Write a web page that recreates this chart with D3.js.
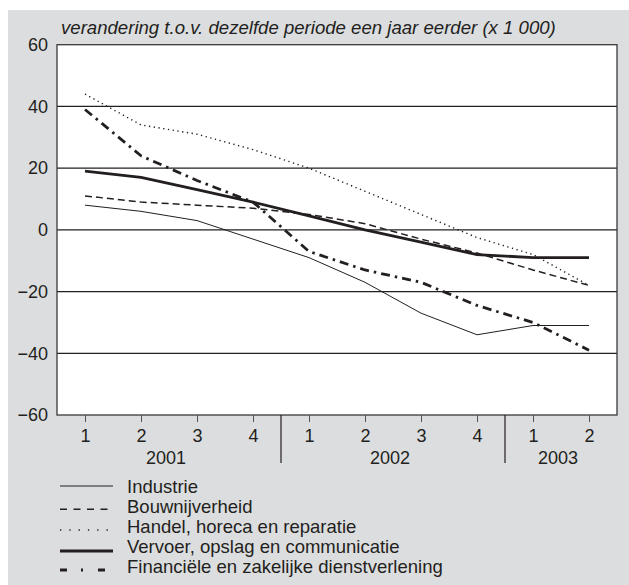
<!DOCTYPE html>
<html>
<head>
<meta charset="utf-8">
<script src="https://cdn.jsdelivr.net/npm/d3@7"></script>
<style>
  html, body { margin: 0; padding: 0; background: #fff; }
  svg { display: block; }
  text { font-family: "Liberation Sans", Arial, Helvetica, sans-serif; fill: #231f20; }
</style>
</head>
<body>
<svg id="chart" width="629" height="585"></svg>
<script>
// ---- data ----
const years = ["2001", "2002", "2003"];
const quarters = ["1", "2", "3", "4", "1", "2", "3", "4", "1", "2"];
const periodYear = ["2001", "2001", "2001", "2001", "2002", "2002", "2002", "2002", "2003", "2003"];
const yTicks = [-60, -40, -20, 0, 20, 40, 60];

const industrie      = [8, 6, 3, -3, -9, -17, -27, -34, -31, -31];
const bouwnijverheid = [11, 9, 8, 7, 5, 2, -3, -7.5, -13, -18];
const handel         = [44, 34, 31, 26, 20, 12.5, 5, -2.5, -8, -18];
const vervoer        = [19, 17, 13, 9, 4.5, 0, -4, -8, -9, -9];
const financieel     = [39, 24, 16, 9, -7, -13, -17, -24.5, -30, -39];

const seriesNames = [
  "Industrie",
  "Bouwnijverheid",
  "Handel, horeca en reparatie",
  "Vervoer, opslag en communicatie",
  "Financiële en zakelijke dienstverlening"
];
const seriesValues = [industrie, bouwnijverheid, handel, vervoer, financieel];

const titleText = "verandering t.o.v. dezelfde periode een jaar eerder (x 1 000)";

// ---- styles ----
const styles = [
  { w: 1.0, dash: null,          legendDash: null },
  { w: 1.5, dash: "7,4",         legendDash: "7,6.5" },
  { w: 1.4, dash: "1.3,3.5",     legendDash: "1.3,8" },
  { w: 2.8, dash: null,          legendDash: null },
  { w: 2.8, dash: "9,5,2.5,5",   legendDash: "7,14,2,15" }
];

const svg = d3.select("#chart");
const W = 629, H = 585;
const plot = { left: 57, right: 617, top: 44.7, bottom: 415 };

// background
svg.append("rect").attr("x", 8).attr("y", 10).attr("width", W - 8).attr("height", H - 10)
  .attr("fill", "#dcdddf");

svg.append("rect")
  .attr("x", plot.left).attr("y", plot.top)
  .attr("width", plot.right - plot.left).attr("height", plot.bottom - plot.top)
  .attr("fill", "#fff");

const keys = quarters.map((q, i) => periodYear[i] + "-" + q);
const x = d3.scalePoint().domain(keys).range([plot.left, plot.right]).padding(0.5);
const y = d3.scaleLinear().domain([-60, 60]).range([plot.bottom, plot.top]);

// gridlines
svg.append("g").selectAll("line")
  .data(yTicks.filter(t => t > -60 && t < 60))
  .join("line")
  .attr("x1", plot.left).attr("x2", plot.right)
  .attr("y1", d => y(d)).attr("y2", d => y(d))
  .attr("stroke", "#231f20").attr("stroke-width", 1.2);

// frame
svg.append("rect")
  .attr("x", plot.left).attr("y", plot.top)
  .attr("width", plot.right - plot.left).attr("height", plot.bottom - plot.top)
  .attr("fill", "none").attr("stroke", "#3a3a3a").attr("stroke-width", 1.3);

// y axis labels
const yAxis = d3.axisLeft(y).tickValues(yTicks).tickSize(0).tickPadding(9)
  .tickFormat(d => d < 0 ? "\u2212" + Math.abs(d) : String(d));
const gy = svg.append("g").attr("transform", `translate(${plot.left},0)`).call(yAxis);
gy.select(".domain").remove();
gy.selectAll("text").attr("font-size", 18).attr("fill", "#231f20")
  .style("font-family", '"Liberation Sans", Arial, sans-serif');

// x axis
const xAxis = d3.axisBottom(x).tickSize(7).tickPadding(7).tickFormat((d, i) => quarters[i]);
const gx = svg.append("g").attr("transform", `translate(0,${plot.bottom})`).call(xAxis);
gx.select(".domain").remove();
gx.selectAll(".tick line").attr("stroke", "#555").attr("stroke-width", 1);
gx.selectAll("text").attr("font-size", 18).attr("fill", "#231f20")
  .style("font-family", '"Liberation Sans", Arial, sans-serif');

// year separators and labels
const step = x.step();
years.forEach((yr, yi) => {
  const idx = keys.map((k, i) => periodYear[i] === yr ? i : -1).filter(i => i >= 0);
  const first = x(keys[idx[0]]), last = x(keys[idx[idx.length - 1]]);
  svg.append("text")
    .attr("x", (first + last) / 2 - 3).attr("y", 464)
    .attr("text-anchor", "middle").attr("font-size", 18).text(yr);
  if (yi < years.length - 1) {
    const sx = last + step / 2;
    svg.append("line").attr("x1", sx).attr("x2", sx).attr("y1", plot.bottom).attr("y2", 463)
      .attr("stroke", "#231f20").attr("stroke-width", 1.2);
  }
});

// title
svg.append("text").attr("x", 61).attr("y", 33.5)
  .attr("font-size", 18.6).attr("font-style", "italic").text(titleText);

// lines
const line = d3.line().x((d, i) => x(keys[i])).y(d => y(d));
seriesValues.forEach((vals, si) => {
  const st = styles[si];
  svg.append("path").datum(vals)
    .attr("d", line)
    .attr("fill", "none")
    .attr("stroke", "#231f20")
    .attr("stroke-width", st.w)
    .attr("stroke-dasharray", st.dash)
    .attr("stroke-linejoin", "round");
});

// legend
const legendBase = [492.7, 512.7, 533, 553, 573];
const legendLineY = [486, 509.3, 530, 551, 570];
seriesNames.forEach((name, si) => {
  const st = styles[si];
  svg.append("line")
    .attr("x1", 60).attr("x2", 113)
    .attr("y1", legendLineY[si]).attr("y2", legendLineY[si])
    .attr("stroke", "#231f20").attr("stroke-width", st.w)
    .attr("stroke-dasharray", st.legendDash);
  svg.append("text").attr("x", 127).attr("y", legendBase[si])
    .attr("font-size", 18.5).text(name);
});
</script>
</body>
</html>
